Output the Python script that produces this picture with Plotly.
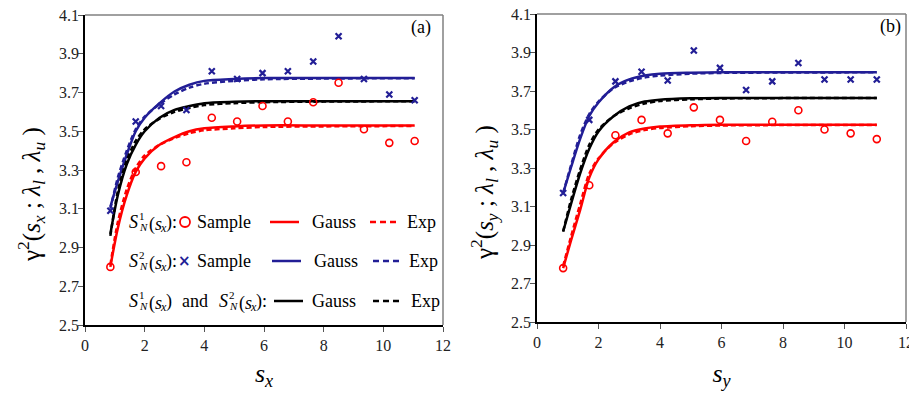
import plotly.graph_objects as go

# ---------------- data ----------------
lags = [0.85, 1.7, 2.55, 3.4, 4.25, 5.1, 5.95, 6.8, 7.65, 8.5, 9.35, 10.2, 11.05]

# panel (a)
a_s1_sample = [2.80, 3.29, 3.32, 3.34, 3.57, 3.55, 3.63, 3.55, 3.65, 3.75, 3.51, 3.44, 3.45]
a_s2_sample = [3.09, 3.55, 3.63, 3.61, 3.81, 3.77, 3.80, 3.81, 3.86, 3.99, 3.77, 3.69, 3.66]

# panel (b)
b_s1_sample = [2.78, 3.21, 3.47, 3.55, 3.48, 3.615, 3.55, 3.44, 3.54, 3.60, 3.50, 3.48, 3.45]
b_s2_sample = [3.17, 3.55, 3.75, 3.80, 3.755, 3.91, 3.82, 3.705, 3.75, 3.845, 3.76, 3.76, 3.76]

# fitted model curves (at these lags)
curve_x = [0.85, 1.1, 1.4, 1.7, 2.0, 2.5, 3.0, 3.5, 4.0, 5.0, 6.0, 8.0, 11.05]

a_s1_gauss = [2.80, 3.00, 3.17, 3.29, 3.36, 3.43, 3.47, 3.50, 3.515, 3.525, 3.53, 3.53, 3.53]
a_s1_exp   = [2.81, 3.03, 3.20, 3.31, 3.375, 3.43, 3.465, 3.49, 3.505, 3.515, 3.522, 3.525, 3.527]
a_s2_gauss = [3.11, 3.24, 3.38, 3.50, 3.57, 3.645, 3.705, 3.74, 3.76, 3.77, 3.775, 3.775, 3.775]
a_s2_exp   = [3.10, 3.26, 3.40, 3.51, 3.575, 3.64, 3.69, 3.725, 3.745, 3.76, 3.768, 3.772, 3.774]
a_all_gauss = [2.97, 3.17, 3.33, 3.43, 3.50, 3.57, 3.61, 3.63, 3.645, 3.652, 3.655, 3.655, 3.655]
a_all_exp   = [2.96, 3.19, 3.35, 3.45, 3.51, 3.565, 3.60, 3.62, 3.635, 3.645, 3.65, 3.653, 3.655]

b_s1_gauss = [2.78, 2.92, 3.08, 3.25, 3.345, 3.435, 3.485, 3.505, 3.515, 3.522, 3.525, 3.525, 3.525]
b_s1_exp   = [2.79, 2.94, 3.11, 3.27, 3.35, 3.43, 3.475, 3.497, 3.508, 3.517, 3.521, 3.523, 3.524]
b_s2_gauss = [3.17, 3.30, 3.45, 3.57, 3.64, 3.72, 3.76, 3.78, 3.79, 3.795, 3.797, 3.797, 3.797]
b_s2_exp   = [3.17, 3.31, 3.47, 3.58, 3.645, 3.715, 3.75, 3.77, 3.78, 3.79, 3.794, 3.796, 3.797]
b_all_gauss = [2.97, 3.11, 3.27, 3.40, 3.49, 3.57, 3.62, 3.645, 3.655, 3.662, 3.664, 3.664, 3.664]
b_all_exp   = [2.97, 3.13, 3.29, 3.42, 3.50, 3.57, 3.61, 3.635, 3.648, 3.657, 3.661, 3.663, 3.664]

x_ticks = [0, 2, 4, 6, 8, 10, 12]
y_ticks = [2.5, 2.7, 2.9, 3.1, 3.3, 3.5, 3.7, 3.9, 4.1]

# ---------------- style ----------------
RED = "#FF0000"
BLUE = "#221E96"
BLACK = "#000000"
FONT = "Liberation Serif, Times New Roman, Times, serif"
OFF = 8                      # default body margin of the html page
W, H = 917 - 2 * OFF, 399 - 2 * OFF

def px(x):
    return (x - OFF) / W

def py(y):
    return 1 - (y - OFF) / H

fig = go.Figure()

panels = [
    ("x", "y", a_s1_sample, a_s2_sample,
     [(a_s1_gauss, a_s1_exp, RED), (a_s2_gauss, a_s2_exp, BLUE), (a_all_gauss, a_all_exp, BLACK)]),
    ("x2", "y2", b_s1_sample, b_s2_sample,
     [(b_s1_gauss, b_s1_exp, RED), (b_s2_gauss, b_s2_exp, BLUE), (b_all_gauss, b_all_exp, BLACK)]),
]

for xa, ya, s1, s2, curves in panels:
    for g, e, c in curves:
        fig.add_trace(go.Scatter(x=curve_x, y=g, mode="lines", xaxis=xa, yaxis=ya,
                                 line=dict(color=c, width=2.5, shape="spline", smoothing=0.8),
                                 showlegend=False, hoverinfo="skip"))
        fig.add_trace(go.Scatter(x=curve_x, y=e, mode="lines", xaxis=xa, yaxis=ya,
                                 line=dict(color=c, width=2.5, dash="5px,3px", shape="spline", smoothing=0.8),
                                 showlegend=False, hoverinfo="skip"))
    fig.add_trace(go.Scatter(x=lags, y=s1, mode="markers", xaxis=xa, yaxis=ya,
                             marker=dict(symbol="circle-open", size=7, color=RED, line=dict(width=1.6, color=RED)),
                             showlegend=False))
    fig.add_trace(go.Scatter(x=lags, y=s2, mode="markers", xaxis=xa, yaxis=ya,
                             marker=dict(symbol="x-thin", size=6, color=BLUE, line=dict(width=2.2, color=BLUE)),
                             showlegend=False))

TF = dict(family=FONT, size=16, color="#222")
common_x = dict(range=[0, 12], tickvals=x_ticks, ticks="outside", ticklen=5, tickcolor="#555",
                showline=True, linecolor="black", linewidth=1.5, showgrid=False, zeroline=False,
                tickfont=TF, automargin=False, ticklabeloverflow="allow")
common_y = dict(range=[2.5, 4.1], tickvals=y_ticks, tickformat=".1f", ticks="outside", ticklen=5,
                tickcolor="#555", showline=True, linecolor="black", linewidth=1.5, showgrid=False,
                zeroline=False, tickfont=TF, automargin=False, ticklabeloverflow="allow",
                ticklabelstandoff=-4)

fig.update_layout(
    width=W, height=H, margin=dict(l=0, r=0, t=0, b=0, pad=0, autoexpand=False),
    paper_bgcolor="white", plot_bgcolor="white", showlegend=False,
    xaxis=dict(domain=[px(85), px(443)], anchor="y",
               title=dict(text="<i>s<sub>x</sub></i>", font=dict(family=FONT, size=26, color="black")),
               **common_x),
    yaxis=dict(domain=[py(325), py(15)], anchor="x", **common_y),
    xaxis2=dict(domain=[px(537), px(906)], anchor="y2",
                title=dict(text="<i>s<sub>y</sub></i>", font=dict(family=FONT, size=26, color="black")),
                **common_x),
    yaxis2=dict(domain=[py(322), py(14)], anchor="x2", **common_y),
)

# gray frames (top/right)
for xa, ya in [("x", "y"), ("x2", "y2")]:
    fig.add_shape(type="line", xref=f"{xa} domain", yref=f"{ya} domain", x0=0, x1=1, y0=1, y1=1,
                  line=dict(color="#808080", width=1.5))
    fig.add_shape(type="line", xref=f"{xa} domain", yref=f"{ya} domain", x0=1, x1=1, y0=0, y1=1,
                  line=dict(color="#808080", width=1.5))

ann = []
LF = dict(family=FONT, size=18, color="black")
SF = dict(family=FONT, size=11, color="black")

def lab(x, y, text, font=LF, anchor="left", angle=0):
    ann.append(dict(x=px(x), y=py(y), text=text, xanchor=anchor, yanchor="middle", showarrow=False,
                    xref="paper", yref="paper", font=font, textangle=angle))

lab(421, 27, "(a)", anchor="center")
lab(890, 26, "(b)", anchor="center")

# y axis titles
TTF = dict(family=FONT, size=25, color="black")
lab(31, 195, "γ<sup>2</sup>(<i>s<sub>x</sub></i> ; <i>λ<sub>l</sub></i> , <i>λ<sub>u</sub></i> )",
    font=TTF, anchor="center", angle=-90)
lab(484, 193, "γ<sup>2</sup>(<i>s<sub>y</sub></i> ; <i>λ<sub>l</sub></i> , <i>λ<sub>u</sub></i> )",
    font=TTF, anchor="center", angle=-90)

def s_label(x0, y, k, tail):
    """S with stacked superscript k and subscript N, followed by (s_x) and tail."""
    lab(x0, y, "<i>S</i>")
    lab(x0 + 9.5, y - 6, str(k), font=SF)
    lab(x0 + 9.5, y + 5, "<i>N</i>", font=SF)
    lab(x0 + 19.5, y + 2, "(<i>s</i>", font=LF)
    lab(x0 + 31, y + 6, "<i>x</i>", font=dict(family=FONT, size=12, color="black"))
    lab(x0 + 37, y, ")" + tail, font=LF)

# legend (inside panel a)
rows = [222, 261, 301]
s_label(127, rows[0], 1, ":")
s_label(127, rows[1], 2, ":")
s_label(127, rows[2], 1, "")
lab(180, rows[2], "and")
s_label(217, rows[2], 2, ":")
for r in rows[:2]:
    lab(195, r, "Sample")
for r, x0 in zip(rows, [310, 312, 310]):
    lab(x0, r, "Gauss")
for r, x0 in zip(rows, [405, 407, 409]):
    lab(x0, r, "Exp")
lab(184, rows[1], "<b>×</b>", font=dict(family="DejaVu Sans", size=15, color=BLUE), anchor="center")
fig.update_layout(annotations=ann)

fig.add_shape(type="circle", xref="paper", yref="paper", x0=px(180), x1=px(190),
              y0=py(rows[0] + 5), y1=py(rows[0] - 5), line=dict(color=RED, width=1.8))
for r, c, xs, xd in [(rows[0], RED, (270, 299), (370, 400)),
                     (rows[1], BLUE, (272, 301), (373, 400)),
                     (rows[2], BLACK, (274, 303), (373, 401))]:
    fig.add_shape(type="line", xref="paper", yref="paper", x0=px(xs[0]), x1=px(xs[1]), y0=py(r), y1=py(r),
                  line=dict(color=c, width=2.5))
    fig.add_shape(type="line", xref="paper", yref="paper", x0=px(xd[0]), x1=px(xd[1]), y0=py(r), y1=py(r),
                  line=dict(color=c, width=2.5, dash="6px,4px"))

fig.write_html("out.html")
